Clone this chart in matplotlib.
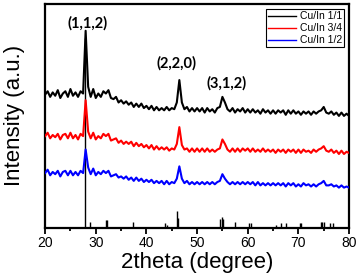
import numpy as np
import matplotlib
matplotlib.use('Agg')
import matplotlib.pyplot as plt
from matplotlib.ticker import MultipleLocator

# 2theta grid, 0.5 degree steps from 20 to 80
two_theta = np.arange(20, 80.01, 0.5)

# Cu/In 1/1 (black), arbitrary units
cu_in_1_1 = [59.5, 61, 58.5, 60.5, 59, 61.5, 58, 60, 61, 58.5,
             62, 59, 60.5, 58.5, 61, 60, 88, 63, 58.5, 62,
             58, 60, 58.5, 61, 60, 61.5, 58, 57.5, 58.5, 56,
             57, 55.5, 56.5, 55, 56, 54, 55.5, 54, 55.5, 53.5,
             54.5, 53, 54.5, 52.5, 54, 52.5, 53.5, 52.5, 54, 52.5,
             53.5, 53, 56, 66, 56, 53, 54, 52, 53.5, 52,
             53.5, 52, 53.5, 51.5, 53.5, 52, 53, 51.5, 53.5, 54,
             58.5, 56, 53, 52, 53.5, 51.5, 53, 52, 53.5, 51.5,
             53, 51.5, 53, 51.5, 52.5, 51, 53, 51.5, 52.5, 51,
             52.5, 51, 52.5, 51.5, 52.5, 50.5, 52.5, 51, 52.5, 51,
             52, 50.5, 52, 51, 52, 50.5, 52, 51, 52, 52.5,
             54, 51.5, 51, 52, 50.5, 51.5, 50, 51.5, 50, 51,
             50]

# Cu/In 3/4 (red)
cu_in_3_4 = [41, 42.5, 40, 41.5, 40.5, 42, 39.5, 41.5, 42, 40,
             42.5, 40, 41.5, 39.5, 42, 41, 57, 43, 40, 42.5,
             39.5, 41, 40, 42, 41, 42, 39, 39.5, 40, 38,
             39, 37.5, 38.5, 37.5, 38.5, 36.5, 38, 36.5, 37.5, 36,
             37, 35.5, 37, 35, 36.5, 35, 36, 35, 36, 34.5,
             35.5, 35, 37.5, 45, 37, 35, 35.5, 34, 35.5, 34,
             35.5, 34, 35.5, 34, 35.5, 34, 35, 34, 35, 35.5,
             39.5, 37.5, 35, 34, 35.5, 34, 35.5, 34, 35.5, 34.5,
             35.5, 34, 35.5, 34, 35, 34, 35.5, 34, 35, 34,
             35, 33.5, 35, 34, 35, 33.5, 35, 34, 35, 33.5,
             35, 33.5, 35, 34, 34.5, 33.5, 35, 34, 35, 35.5,
             36.5, 34.5, 34, 35, 33.5, 34.5, 33, 34.5, 33, 34,
             33.5]

# Cu/In 1/2 (blue)
cu_in_1_2 = [24.5, 26, 23.5, 25, 24, 25.5, 23, 25, 25.5, 23.5,
             25.5, 23.5, 25, 23.5, 25.5, 24.5, 35, 27, 24, 26.5,
             23.5, 25, 24, 25.5, 24.5, 25.5, 23, 23.5, 24, 22.5,
             23, 22, 23, 21.5, 22.5, 21, 22.5, 21, 22, 20.5,
             21.5, 20.5, 21.5, 20, 21, 20, 21, 19.5, 21, 19.5,
             20.5, 20, 22, 27.5, 22, 20, 21, 19.5, 20.5, 19.5,
             20.5, 19.5, 20.5, 19.5, 20.5, 19.5, 20.5, 19.5, 20.5, 21,
             24, 22, 20.5, 19.5, 20.5, 19.5, 20.5, 19.5, 20.5, 19.5,
             20.5, 19.5, 20.5, 19, 20.5, 19, 20, 19, 20, 19,
             20, 19, 20, 19, 20, 18.5, 20, 19, 20, 18.5,
             19.5, 18.5, 20, 19, 19.5, 18.5, 19.5, 18.5, 19.5, 20,
             21, 19, 19, 19.5, 18.5, 19, 18, 19, 18, 18.5,
             18]

# reference pattern sticks
ref_pos = [27.9, 28.9, 32.0, 32.3, 37.3, 43.7, 44.0, 46.1, 46.3, 54.6, 54.9,
           55.2, 57.5, 60.3, 60.7, 65.5, 66.6, 67.5, 70.3, 70.6, 74.4, 74.7,
           75.0, 76.2, 76.9]
ref_height = [85, 2.7, 3.5, 3.7, 2.5, 2.2, 1.5, 7.5, 4.5, 4, 4.8,
              4, 2.5, 2, 2, 1.5, 2, 2, 2, 2, 2.5, 2.7,
              2.5, 2.2, 2.2]

peak_labels = ['(1,1,2)', '(2,2,0)', '(3,1,2)']
peak_x = [28.3, 46.0, 55.9]
peak_y = [91.5, 73.5, 64.5]

plt.rcParams['font.family'] = ['Liberation Sans', 'DejaVu Sans']

fig = plt.figure(figsize=(3.58, 2.78), dpi=100)
ax = fig.add_axes([0.126, 0.18, 0.849, 0.806])

ax.vlines(ref_pos, 0, ref_height, color='black', lw=1.0, zorder=1)
ax.plot(two_theta, cu_in_1_1, color='black', lw=1.5, label='Cu/In 1/1', zorder=3)
ax.plot(two_theta, cu_in_3_4, color='red', lw=1.5, label='Cu/In 3/4', zorder=3)
ax.plot(two_theta, cu_in_1_2, color='blue', lw=1.5, label='Cu/In 1/2', zorder=3)

for lab, px, py in zip(peak_labels, peak_x, peak_y):
    ax.text(px, py, lab, ha='center', va='center', fontsize=10.5,
            fontweight='bold', family=['Lato', 'DejaVu Sans'])

ax.set_xlim(20, 80)
ax.set_ylim(0, 100)
ax.xaxis.set_major_locator(MultipleLocator(10))
ax.xaxis.set_minor_locator(MultipleLocator(5))
ax.tick_params(axis='x', which='major', direction='out', length=4, width=1.3,
               labelsize=10, pad=1.5)
ax.tick_params(axis='x', which='minor', direction='out', length=2, width=1.3)
ax.set_yticks([])
for s in ax.spines.values():
    s.set_linewidth(1.6)

ax.set_xlabel('2theta (degree)', fontsize=16, labelpad=2)
ax.set_ylabel('Intensity (a.u.)', fontsize=16)
ax.yaxis.set_label_coords(-0.066, 0.5)

leg = ax.legend(loc='upper right', fontsize=7.5, handlelength=2.7,
                handletextpad=0.3, labelspacing=0.2, borderpad=0.2,
                borderaxespad=0.5, fancybox=False, framealpha=1)
leg.get_frame().set_edgecolor('black')
leg.get_frame().set_linewidth(0.8)
for line in leg.get_lines():
    line.set_linewidth(1.0)

fig.savefig('out.png', dpi=100)
